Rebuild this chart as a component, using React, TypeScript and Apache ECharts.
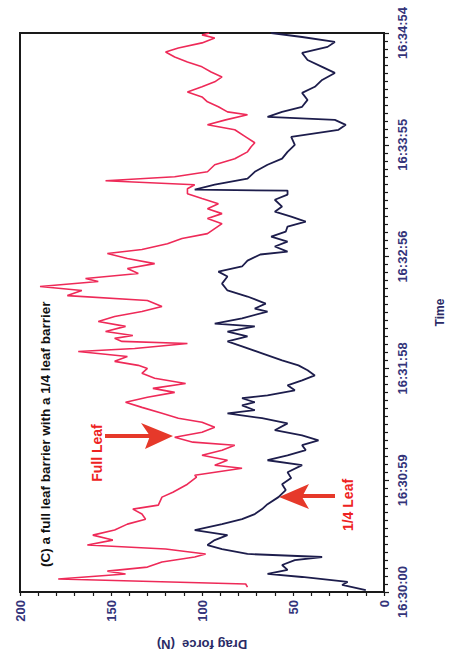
import React, { useEffect, useRef } from "react";
import * as echarts from "echarts";

// Time in seconds after 16:30:00, force in N
const fullLeafTime = [2.6, 4.2, 6.8, 9.5, 11.0, 13.1, 15.8, 18.4, 20.0, 22.6, 24.7, 27.3, 29.9, 32.6, 35.7, 38.3, 41.0, 43.6, 45.7, 49.9, 52.5, 56.7, 60.4, 61.4, 65.1, 66.7, 69.3, 71.9, 74.6, 77.2, 78.8, 81.4, 84.0, 86.6, 89.3, 91.4, 94.0, 97.1, 99.8, 102.4, 105.0, 107.1, 109.7, 112.4, 115.0, 117.6, 119.2, 121.3, 123.9, 126.5, 128.1, 130.7, 131.8, 133.4, 134.9, 137.0, 139.7, 142.3, 144.9, 147.5, 150.2, 153.3, 155.9, 158.6, 160.7, 163.3, 164.9, 167.5, 170.1, 172.7, 175.4, 178.0, 180.1, 183.2, 185.9, 188.5, 191.1, 193.7, 196.4, 199.0, 201.6, 204.2, 206.9, 209.5, 212.1, 214.2, 216.3, 218.4, 221.0, 224.7, 227.9, 231.5, 234.2, 236.3, 239.4, 243.1, 245.7, 248.3, 251.0, 252.5, 255.2, 257.8, 260.4, 263.0, 265.7, 268.3, 270.9, 273.5, 276.2, 278.8, 281.4, 284.0, 286.1, 288.8, 291.4, 293.0, 294.0];
const fullLeafForce = [75, 76, 179, 142, 152, 130, 122, 104, 98, 120, 163, 149, 160, 148, 141, 131, 133, 138, 124, 122, 116, 108, 103, 104, 78, 93, 86, 100, 89, 82, 105, 115, 100, 93, 100, 113, 122, 133, 142, 130, 115, 127, 109, 126, 133, 130, 135, 148, 141, 168, 137, 108, 144, 148, 138, 153, 142, 157, 148, 133, 122, 130, 174, 166, 189, 157, 164, 135, 141, 126, 141, 152, 133, 119, 111, 97, 93, 89, 97, 89, 97, 91, 100, 108, 108, 104, 153, 115, 97, 93, 82, 75, 73, 71, 76, 82, 97, 87, 75, 86, 91, 97, 100, 108, 100, 93, 89, 95, 100, 108, 115, 120, 113, 100, 93, 100, 96];

const quarterLeafTime = [1.0, 3.7, 5.3, 7.9, 9.5, 11.6, 14.2, 16.8, 18.4, 20.0, 22.6, 24.7, 27.3, 29.9, 32.6, 35.7, 38.3, 41.0, 43.6, 46.2, 49.9, 53.6, 56.7, 59.9, 63.0, 66.7, 69.3, 71.9, 74.6, 77.2, 79.8, 82.4, 85.1, 88.7, 91.4, 94.0, 95.6, 98.2, 99.8, 101.9, 103.4, 106.1, 108.7, 111.3, 113.9, 116.6, 119.2, 121.8, 125.5, 129.2, 131.8, 134.4, 137.0, 139.7, 141.2, 143.9, 147.5, 149.1, 151.7, 155.4, 158.6, 162.2, 165.9, 168.5, 171.2, 174.3, 177.5, 179.0, 181.7, 184.3, 186.9, 189.5, 192.2, 194.8, 197.4, 200.0, 202.7, 206.3, 209.0, 211.1, 211.6, 214.2, 217.4, 221.0, 224.7, 227.9, 231.5, 235.2, 239.4, 243.1, 245.7, 248.3, 249.9, 252.5, 255.2, 258.8, 262.5, 265.7, 269.3, 273.0, 276.2, 279.8, 283.5, 286.7, 289.3, 291.9, 294.0];
const quarterLeafForce = [10, 23, 20, 45, 64, 53, 56, 49, 34, 75, 89, 97, 93, 86, 104, 89, 78, 71, 67, 64, 58, 54, 56, 51, 53, 45, 64, 53, 43, 45, 36, 45, 60, 53, 67, 86, 71, 78, 71, 78, 64, 49, 53, 45, 38, 42, 47, 56, 67, 78, 86, 75, 86, 71, 93, 78, 64, 71, 65, 75, 86, 89, 86, 91, 78, 75, 68, 53, 60, 53, 62, 54, 53, 43, 51, 60, 56, 60, 53, 53, 104, 93, 75, 71, 64, 56, 53, 49, 51, 25, 21, 27, 64, 56, 45, 42, 45, 38, 34, 27, 34, 42, 45, 31, 27, 45, 62];

const timeTickLabels = ["16:30:00", "16:30:59", "16:31:58", "16:32:56", "16:33:55", "16:34:54"];
const forceTicks = [0, 50, 100, 150, 200];

const FONT = "'Liberation Sans', Arial, sans-serif";
const LABEL_COLOR = "#34347a";
const RED = "#ee2a58";
const NAVY = "#1d1d4c";
const ARROW = "#e6392a";

export default function App() {
  const ref = useRef<HTMLDivElement>(null);
  useEffect(() => {
    if (!ref.current) return;
    const chart = echarts.init(ref.current, undefined, { renderer: "svg" });
    const step = 294 / (timeTickLabels.length - 1);
    const option = {
      animation: false,
      backgroundColor: "#ffffff",
      grid: {
        left: 20,
        top: 33,
        right: 82,
        bottom: 62,
        show: true,
        borderColor: "#1a1a1a",
        borderWidth: 2,
        backgroundColor: "transparent",
      },
      xAxis: {
        type: "value",
        inverse: true,
        min: forceTicks[0],
        max: forceTicks[forceTicks.length - 1],
        interval: 50,
        position: "bottom",
        name: "Drag force  (N)",
        nameLocation: "middle",
        nameRotate: 180,
        nameGap: 46,
        nameTextStyle: { fontFamily: FONT, fontWeight: "bold", fontSize: 13, color: "#2a2a66" },
        axisLine: { show: true, lineStyle: { color: "#1a1a1a", width: 2 } },
        axisTick: { show: true, length: 4, lineStyle: { color: "#1a1a1a", width: 1.2 } },
        minorTick: { show: true, splitNumber: 5, length: 4, lineStyle: { color: "#1a1a1a", width: 1.2 } },
        splitLine: { show: false },
        minorSplitLine: { show: false },
        axisLabel: {
          rotate: 90,
          margin: 8,
          fontFamily: FONT,
          fontWeight: "bold",
          fontSize: 13,
          color: LABEL_COLOR,
        },
      },
      yAxis: {
        type: "value",
        position: "right",
        min: 0,
        max: 294,
        interval: step,
        name: "Time",
        nameLocation: "middle",
        nameRotate: 90,
        nameGap: 50,
        nameTextStyle: { fontFamily: FONT, fontWeight: "bold", fontSize: 12, color: "#2a2a66" },
        axisLine: { show: true, lineStyle: { color: "#1a1a1a", width: 2 } },
        axisTick: { show: true, length: 5, lineStyle: { color: "#1a1a1a", width: 1.2 } },
        minorTick: { show: true, splitNumber: 14, length: 4, lineStyle: { color: "#1a1a1a", width: 1.2 } },
        splitLine: { show: false },
        minorSplitLine: { show: false },
        axisLabel: {
          rotate: 90,
          margin: 12,
          fontFamily: FONT,
          fontWeight: "bold",
          fontSize: 13,
          color: LABEL_COLOR,
          showMaxLabel: true,
          formatter: (v: number) => timeTickLabels[Math.round(v / step)] ?? "",
        },
      },
      series: [
        {
          name: "Full Leaf",
          type: "line",
          showSymbol: false,
          symbol: "none",
          lineStyle: { color: RED, width: 1.6 },
          data: fullLeafTime.map((t, i) => [fullLeafForce[i], t]),
          z: 3,
        },
        {
          name: "1/4 Leaf",
          type: "line",
          showSymbol: false,
          symbol: "none",
          lineStyle: { color: NAVY, width: 1.8 },
          data: quarterLeafTime.map((t, i) => [quarterLeafForce[i], t]),
          z: 4,
        },
      ],
      graphic: [
        {
          type: "text",
          x: 45,
          y: 567,
          rotation: Math.PI / 2,
          style: {
            text: "(C) a full leaf barrier with a 1/4 leaf barrier",
            fontFamily: FONT,
            fontWeight: "bold",
            fontSize: 13.5,
            fill: "#111111",
            textAlign: "left",
            textVerticalAlign: "middle",
          },
        },
        {
          type: "text",
          x: 97,
          y: 453,
          rotation: Math.PI / 2,
          style: {
            text: "Full Leaf",
            fontFamily: FONT,
            fontWeight: "bold",
            fontSize: 14,
            fill: "#ee2222",
            textAlign: "center",
            textVerticalAlign: "middle",
          },
        },
        {
          type: "text",
          x: 348,
          y: 505,
          rotation: Math.PI / 2,
          style: {
            text: "1/4 Leaf",
            fontFamily: FONT,
            fontWeight: "bold",
            fontSize: 14,
            fill: "#ee2222",
            textAlign: "center",
            textVerticalAlign: "middle",
          },
        },
        {
          type: "line",
          shape: { x1: 105, y1: 436, x2: 150, y2: 436 },
          style: { stroke: ARROW, lineWidth: 4 },
        },
        {
          type: "polygon",
          shape: { points: [[173, 436], [141, 423], [150, 436], [145, 449]] },
          style: { fill: ARROW },
        },
        {
          type: "line",
          shape: { x1: 335, y1: 496, x2: 300, y2: 496 },
          style: { stroke: ARROW, lineWidth: 4 },
        },
        {
          type: "polygon",
          shape: { points: [[279, 497], [309, 484], [302, 497], [309, 509]] },
          style: { fill: ARROW },
        },
      ],
    };
    chart.setOption(option as any);
    return () => chart.dispose();
  }, []);
  return (
    <div
      ref={ref}
      style={{ position: "fixed", left: 0, top: 0, width: 466, height: 656, background: "#fff" }}
    />
  );
}
